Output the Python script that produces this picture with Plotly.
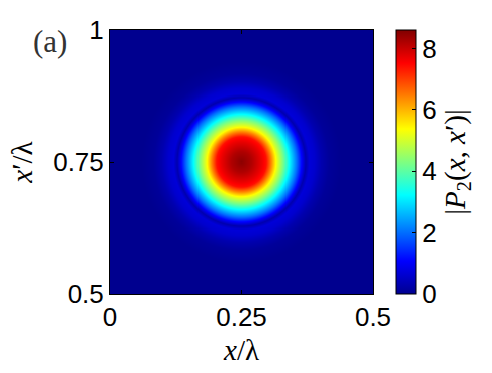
import numpy as np
import plotly.graph_objects as go

radius = [0, 0.019, 0.038, 0.0475, 0.057, 0.0665, 0.080, 0.091, 0.105, 0.114, 0.122, 0.129, 0.139, 0.152, 0.167, 0.19, 0.5]
value = [8.5, 8.2, 7.7, 7.4, 6.4, 5.3, 4.2, 3.2, 2.0, 1.1, 0.3, 0.7, 0.6, 0.3, 0.1, 0.0, 0.0]
centre = (0.25, 0.75)

x_ticks = [0, 0.25, 0.5]
x_labels = ["0", "0.25", "0.5"]
y_ticks = [0.5, 0.75, 1]
y_labels = ["0.5", "0.75", "1"]
cb_ticks = [0, 2, 4, 6, 8]

x = np.linspace(0, 0.5, 261)
y = np.linspace(0.5, 1.0, 261)
X, Y = np.meshgrid(x, y)
R = np.hypot(X - centre[0], Y - centre[1])
Z = np.interp(R, radius, value)

jet = [
    [0.0, "rgb(0,0,143)"],
    [0.125, "rgb(0,0,255)"],
    [0.375, "rgb(0,255,255)"],
    [0.625, "rgb(255,255,0)"],
    [0.875, "rgb(255,0,0)"],
    [1.0, "rgb(128,0,0)"],
]

sans = "Liberation Sans, Arial, sans-serif"
serif = "Liberation Serif, DejaVu Serif, serif"

fig = go.Figure(
    go.Heatmap(
        x=x, y=y, z=Z,
        colorscale=jet, zmin=0, zmax=8.6,
        colorbar=dict(
            x=1.087, xanchor="left", y=0.5, yanchor="middle",
            len=1, lenmode="fraction", thickness=20, thicknessmode="pixels",
            xpad=0, ypad=0,
            outlinewidth=1, outlinecolor="black",
            tickvals=cb_ticks, ticks="inside", ticklen=4, tickcolor="black",
            tickfont=dict(family=sans, size=26, color="black"),
            title=dict(text="|<i>P</i><sub>2</sub>(<i>x</i>, <i>x</i>′)|", side="right",
                       font=dict(family=serif, size=29, color="black")),
        ),
    )
)

fig.update_layout(
    width=492, height=373,
    margin=dict(l=110, r=119, t=30, b=79),
    paper_bgcolor="white", plot_bgcolor="white",
    xaxis=dict(
        range=[0, 0.5], tickvals=x_ticks, ticktext=x_labels,
        ticks="inside", ticklen=4, tickcolor="black",
        showline=True, linecolor="black", linewidth=1, mirror="ticks",
        showgrid=False, zeroline=False,
        tickfont=dict(family=sans, size=26, color="black"),
        title=dict(text="<i>x</i>/λ", font=dict(family=serif, size=29, color="black"), standoff=8),
    ),
    yaxis=dict(
        range=[0.5, 1], tickvals=y_ticks, ticktext=y_labels,
        ticks="inside", ticklen=4, tickcolor="black",
        showline=True, linecolor="black", linewidth=1, mirror="ticks",
        showgrid=False, zeroline=False,
        tickfont=dict(family=sans, size=26, color="black"),
        title=dict(text="<i>x</i>′/λ", font=dict(family=serif, size=29, color="black"), standoff=12),
    ),
    annotations=[
        dict(text="(a)", x=-0.228, y=0.955, xref="paper", yref="paper",
             showarrow=False, xanchor="center", yanchor="middle",
             font=dict(family=serif, size=31, color="#333333")),
    ],
)

fig.write_html("out.html")
